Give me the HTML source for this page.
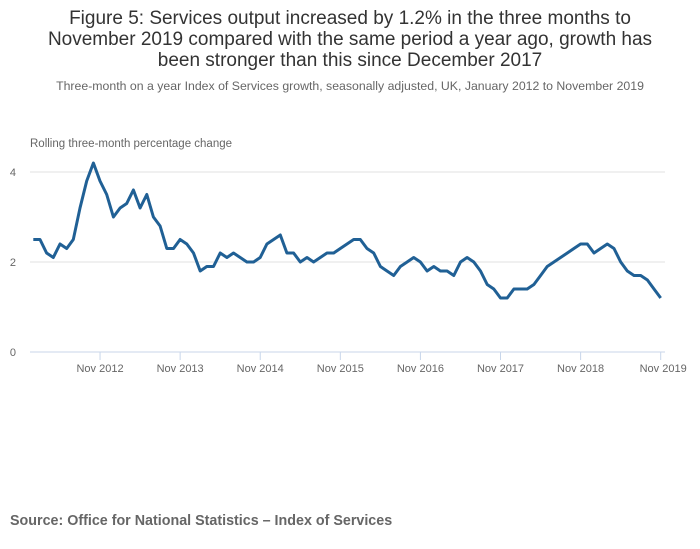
<!DOCTYPE html>
<html><head><meta charset="utf-8"><style>
body{margin:0;background:#fff;font-family:"Liberation Sans",sans-serif;}
#wrap{position:relative;width:700px;height:549px;overflow:hidden}
.title{position:absolute;left:0;width:700px;top:8px;text-align:center;font-size:19px;line-height:21px;color:#333}
.sub{position:absolute;left:0;width:700px;top:79px;text-align:center;font-size:12.3px;color:#666}
.src{position:absolute;left:10px;top:513px;font-size:14.3px;font-weight:bold;color:#666}
</style></head><body>
<div id="wrap">
<div class="title">Figure 5: Services output increased by 1.2% in the three months to<br>November 2019 compared with the same period a year ago, growth has<br>been stronger than this since December 2017</div>
<div class="sub">Three-month on a year Index of Services growth, seasonally adjusted, UK, January 2012 to November 2019</div>
<svg id="chart" width="700" height="549" style="position:absolute;left:0;top:0"></svg>
<div class="src">Source: Office for National Statistics – Index of Services</div>
</div>
<script>
const values = [
2.5,2.5,2.2,2.1,2.4,2.3,2.5,3.2,3.8,4.2,3.8,3.5,
3.0,3.2,3.3,3.6,3.2,3.5,3.0,2.8,2.3,2.3,2.5,2.4,
2.2,1.8,1.9,1.9,2.2,2.1,2.2,2.1,2.0,2.0,2.1,2.4,
2.5,2.6,2.2,2.2,2.0,2.1,2.0,2.1,2.2,2.2,2.3,2.4,
2.5,2.5,2.3,2.2,1.9,1.8,1.7,1.9,2.0,2.1,2.0,1.8,
1.9,1.8,1.8,1.7,2.0,2.1,2.0,1.8,1.5,1.4,1.2,1.2,
1.4,1.4,1.4,1.5,1.7,1.9,2.0,2.1,2.2,2.3,2.4,2.4,
2.2,2.3,2.4,2.3,2.0,1.8,1.7,1.7,1.6,1.4,1.2];
const yTicks = [0,2,4];
const xTickIdx = [10,22,34,46,58,70,82,94];
const xTickLabels = ["Nov 2012","Nov 2013","Nov 2014","Nov 2015","Nov 2016","Nov 2017","Nov 2018","Nov 2019"];
const NS="http://www.w3.org/2000/svg", svg=document.getElementById('chart');
const x0=33.3, x1=660.7, y0=352, pxPerUnit=45;
const xs=i=>x0+(x1-x0)*i/(values.length-1);
const ys=v=>y0-v*pxPerUnit;
function mk(t,a){const e=document.createElementNS(NS,t);for(const k in a)e.setAttribute(k,a[k]);svg.appendChild(e);return e;}
const yt=mk('text',{x:30,y:147,'font-size':11.5,fill:'#666'});yt.textContent='Rolling three-month percentage change';


yTicks.forEach(v=>{
  if(v>0){const g=mk('line',{x1:30,x2:665,y1:ys(v),y2:ys(v),stroke:'#e0e0e0','stroke-width':1});
  
  }
  const t=mk('text',{x:16,y:ys(v)+4,'font-size':11,fill:'#666','text-anchor':'end'});t.textContent=v;
  
  
});
const ax=mk('line',{x1:30,x2:665,y1:y0,y2:y0,stroke:'#c8d6ea','stroke-width':1});


xTickIdx.forEach((i,k)=>{
  const tk=mk('line',{x1:xs(i),x2:xs(i),y1:y0,y2:y0+8,stroke:'#c8d6ea','stroke-width':1});
  
  
  const last=k==xTickIdx.length-1;
  const t=mk('text',{x:last?xs(i)+26:xs(i),y:y0+20,'font-size':11,fill:'#666','text-anchor':last?'end':'middle'});
  t.textContent=xTickLabels[k];
  
  
});
const p=mk('polyline',{points:values.map((v,i)=>xs(i).toFixed(1)+','+ys(v).toFixed(1)).join(' '),fill:'none',stroke:'#206095','stroke-width':3,'stroke-linejoin':'round'});


</script>
</body></html>
